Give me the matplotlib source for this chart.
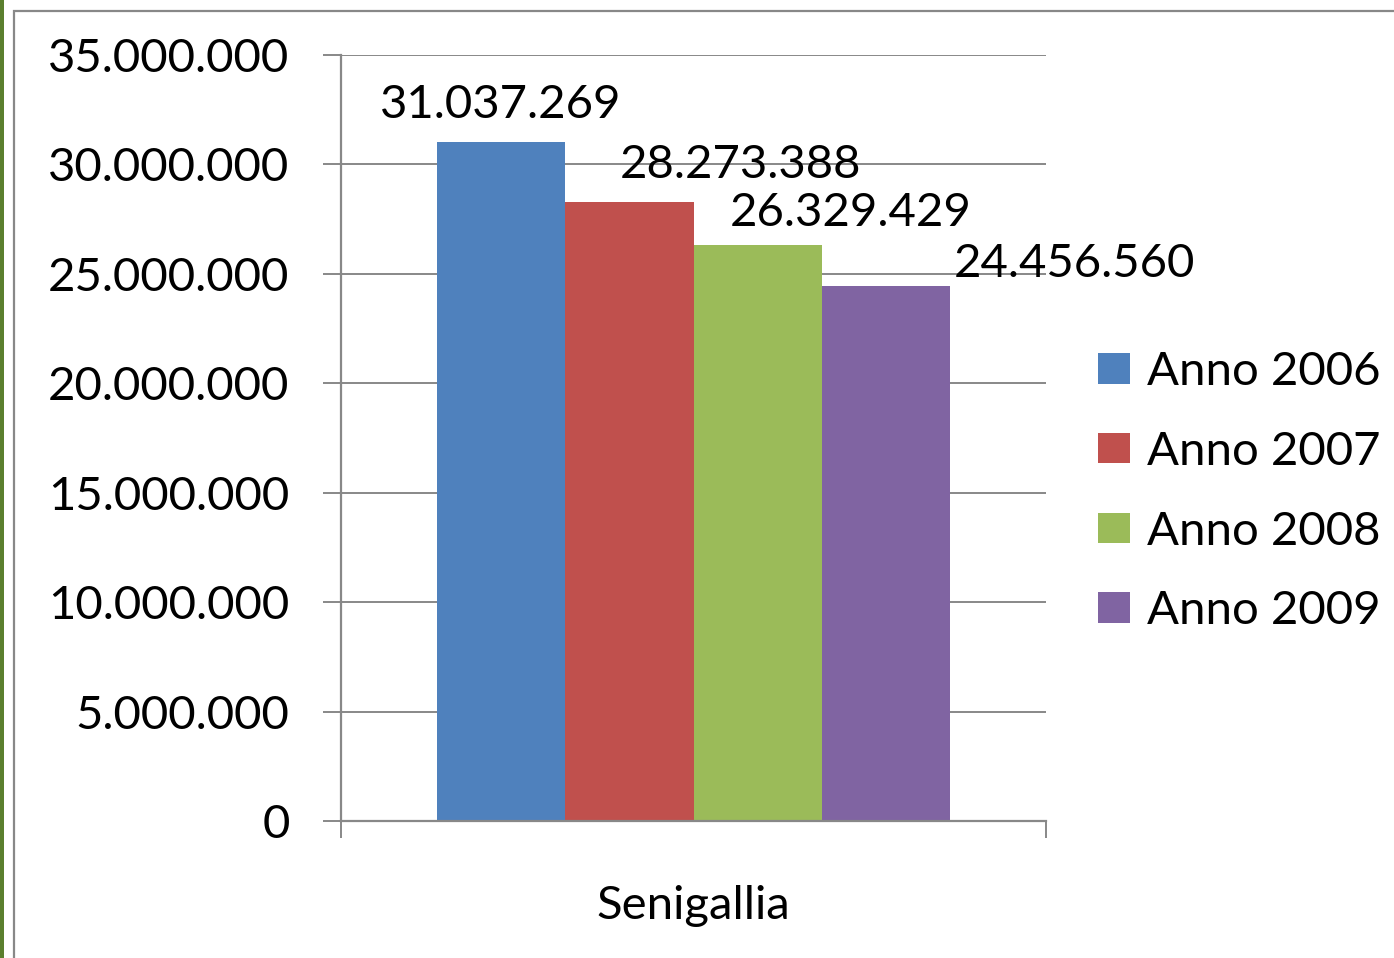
import numpy as np
import matplotlib.pyplot as plt
from matplotlib.patches import Rectangle

categoria = 'Senigallia'
serie = ['Anno 2006', 'Anno 2007', 'Anno 2008', 'Anno 2009']
valori = [31037269, 28273388, 26329429, 24456560]
colori = ['#4F81BD', '#C0504D', '#9BBB59', '#8064A2']
yticks = np.arange(0, 35000001, 5000000)


def fmt(v):
    return f'{int(v):,}'.replace(',', '.')


plt.rcParams['font.family'] = ['Lato', 'DejaVu Sans']

W, H = 1394, 958
fig = plt.figure(figsize=(W / 100, H / 100), dpi=100)

# cornice esterna
fig.patches.append(Rectangle((0, 0), 4 / W, 1, transform=fig.transFigure,
                             facecolor='#5B7F2E', edgecolor='none'))
fig.patches.append(Rectangle((14 / W, -0.1), 1.2, 1 - 11 / H + 0.1,
                             transform=fig.transFigure, facecolor='none',
                             edgecolor='#888888', linewidth=1.6))

ax = fig.add_axes([341 / W, 137 / H, 705 / W, 766 / H])

bw = 0.182
offs = (np.arange(4) - 1.5) * bw
# posizione delle etichette (spostate a mano come nell'originale)
label_dx = [0.0, 0.157, 0.132, 0.268]
label_dy = [1700000, 1700000, 1450000, 1000000]
for i in range(4):
    ax.bar(offs[i], valori[i], width=bw, color=colori[i], label=serie[i],
           zorder=3)
    ax.text(offs[i] + label_dx[i], valori[i] + label_dy[i], fmt(valori[i]),
            ha='center', va='center', fontsize=34)

ax.set_xlim(-0.5, 0.5)
ax.set_ylim(0, 35000000)
ax.set_yticks(yticks)
ax.set_yticklabels([fmt(v) for v in yticks], fontsize=34)
ax.set_xticks([-0.5, 0.5])
ax.set_xticklabels([])
ax.tick_params(axis='y', direction='out', length=13, width=1.4,
               color='#888888', pad=24)
ax.tick_params(axis='x', direction='out', length=12, width=1.4,
               color='#888888')
ax.grid(axis='y', color='#888888', linewidth=1.4, zorder=0)
for s in ['top', 'right']:
    ax.spines[s].set_visible(False)
for s in ['left', 'bottom']:
    ax.spines[s].set_color('#888888')
    ax.spines[s].set_linewidth(1.6)
    ax.spines[s].set_zorder(4)

ax.text(0, -0.111, categoria, transform=ax.get_xaxis_transform(),
        ha='center', va='center', fontsize=34)

fig.legend(loc='upper left', bbox_to_anchor=(1098 / W, 1 - 351 / H),
           frameon=False, fontsize=34, handlelength=0.68, handleheight=0.62,
           handletextpad=0.36, labelspacing=0.8, borderaxespad=0,
           borderpad=0)

fig.savefig('out.png', dpi=100)
